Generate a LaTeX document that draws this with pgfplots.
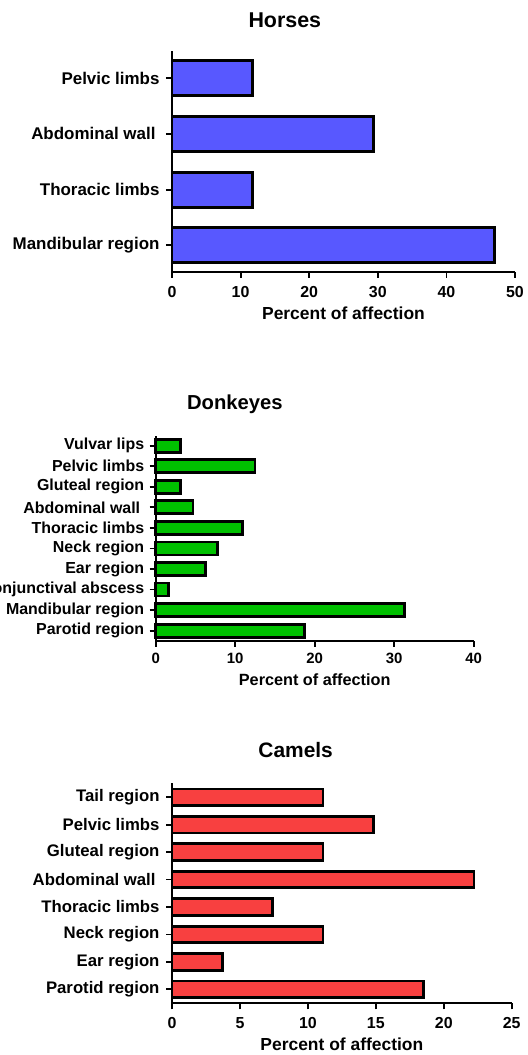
\documentclass[border=0pt]{standalone}
\usepackage{pgfplots}
\pgfplotsset{compat=1.18}
\usepackage{fontspec}
\setmainfont{Liberation Sans}
\definecolor{hblue}{RGB}{88,88,255}
\definecolor{dgreen}{RGB}{0,192,0}
\definecolor{cred}{RGB}{248,64,64}
\pgfplotsset{
  common/.style={
    scale only axis,
    axis x line*=bottom, axis y line*=left,
    axis line style={line width=1.8bp},
    tick align=outside,
    major tick length=6bp,
    tick style={line width=1.8bp, black},
    xbar, xmin=0,
    /pgf/number format/assume math mode=true,
    ytick=data,
    enlarge y limits=false,
    clip=false,
  },
}
\begin{document}
\begin{tikzpicture}
\useasboundingbox (0,0) rectangle (528bp,1055bp);
\clip (0,0) rectangle (528bp,1055bp);
% Horses
\begin{axis}[common,
  at={(172bp,783bp)}, anchor=south west,
  width=343bp, height=221bp,
  xmax=50, xtick={0,10,20,30,40,50},
  ymin=-0.48, ymax=3.49,
  bar width=35bp,
  yticklabels={Mandibular region, Thoracic limbs, Abdominal wall\hspace*{4bp}, Pelvic limbs},
  yticklabel style={font=\bfseries\fontsize{17}{20}\selectfont, xshift=-3bp},
  xticklabel style={font=\bfseries\fontsize{16}{19}\selectfont, yshift=-5bp},
  title={Horses},
  title style={at={(0.329,1)}, anchor=base, yshift=18bp, font=\bfseries\fontsize{21.5}{25}\selectfont},
  xlabel={Percent of affection},
  xlabel style={at={(0.5,0)}, anchor=base, yshift=-48bp, font=\bfseries\fontsize{17.5}{20}\selectfont},
]
\addplot[fill=hblue, draw=black, line width=2.8bp] coordinates {
(47.06,0) (11.76,1) (29.41,2) (11.76,3)};
\end{axis}
% Donkeys
\begin{axis}[common,
  at={(155.7bp,414.3bp)}, anchor=south west,
  width=318bp, height=204.7bp,
  xmax=40, xtick={0,10,20,30,40},
  ymin=-0.49, ymax=9.47,
  bar width=13bp,
  yticklabels={Parotid region, Mandibular region, Conjunctival abscess, Ear region, Neck region, Thoracic limbs, Abdominal wall\hspace*{4bp}, Gluteal region, Pelvic limbs, Vulvar lips},
  yticklabel style={font=\bfseries\fontsize{16}{19}\selectfont, xshift=-2bp},
  xticklabel style={font=\bfseries\fontsize{15}{18}\selectfont, yshift=-3bp},
  title={Donkeyes},
  title style={at={(0.249,1)}, anchor=base, yshift=21bp, font=\bfseries\fontsize{20.3}{24}\selectfont},
  xlabel={Percent of affection},
  xlabel style={at={(0.5,0)}, anchor=base, yshift=-45bp, font=\bfseries\fontsize{16.3}{19}\selectfont},
]
\addplot[fill=dgreen, draw=black, line width=2.8bp] coordinates {
(18.75,0) (31.25,1) (1.56,2) (6.25,3) (7.81,4) (10.94,5) (4.69,6) (3.13,7) (12.5,8) (3.13,9)};
\end{axis}
% Camels
\begin{axis}[common,
  at={(172bp,51.7bp)}, anchor=south west,
  width=339.7bp, height=220bp,
  xmax=25, xtick={0,5,10,15,20,25},
  ymin=-0.51, ymax=7.51,
  bar width=16.5bp,
  yticklabels={Parotid region, Ear region, Neck region, Thoracic limbs, Abdominal wall\hspace*{4bp}, Gluteal region, Pelvic limbs, Tail region},
  yticklabel style={font=\bfseries\fontsize{16.8}{20}\selectfont, xshift=-3bp},
  xticklabel style={font=\bfseries\fontsize{16}{19}\selectfont, yshift=-4.5bp},
  title={Camels},
  title style={at={(0.364,1)}, anchor=base, yshift=20bp, font=\bfseries\fontsize{21}{25}\selectfont},
  xlabel={Percent of affection},
  xlabel style={at={(0.5,0)}, anchor=base, yshift=-47bp, font=\bfseries\fontsize{17.5}{20}\selectfont},
]
\addplot[fill=cred, draw=black, line width=2.8bp] coordinates {
(18.52,0) (3.70,1) (11.11,2) (7.41,3) (22.22,4) (11.11,5) (14.81,6) (11.11,7)};
\end{axis}
\end{tikzpicture}
\end{document}
